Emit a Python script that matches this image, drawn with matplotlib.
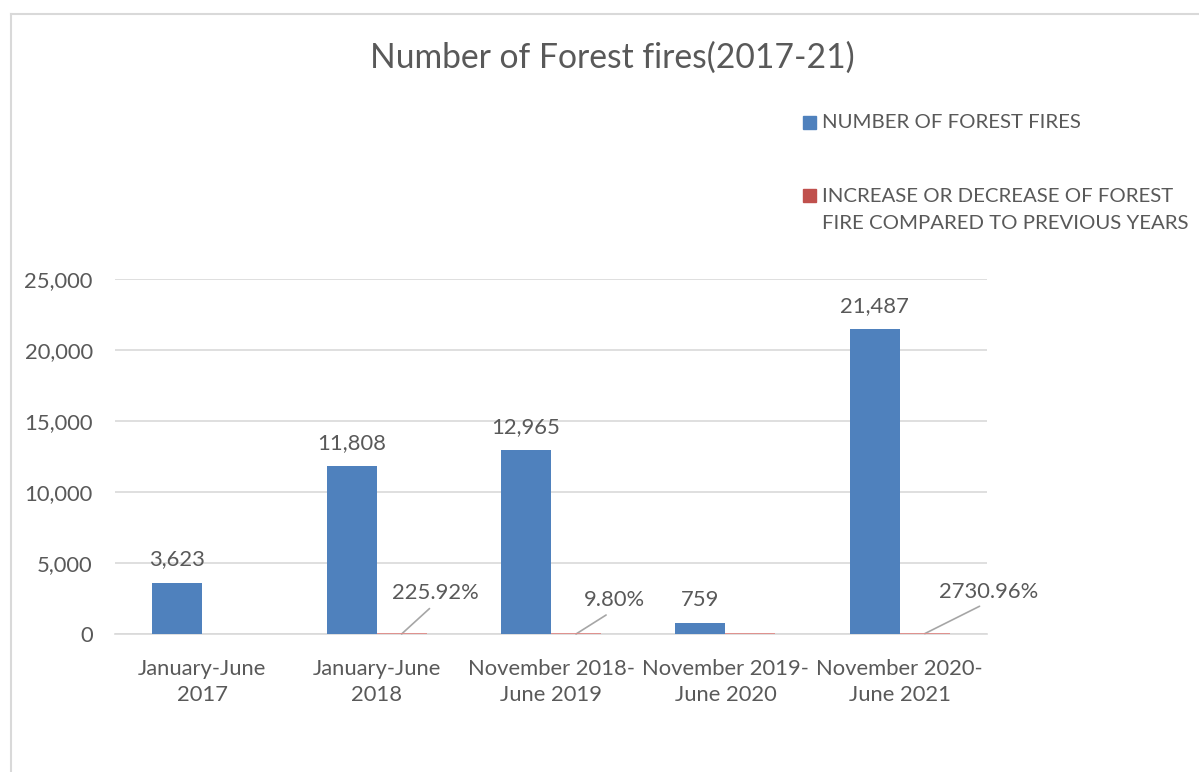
import matplotlib
matplotlib.use("Agg")
import matplotlib.pyplot as plt
from matplotlib.patches import Rectangle
from matplotlib.lines import Line2D
import numpy as np

plt.rcParams['font.family'] = ['Lato', 'DejaVu Sans']

categories = ["January-June\n2017", "January-June\n2018", "November 2018-\nJune 2019",
              "November 2019-\nJune 2020", "November 2020-\nJune 2021"]
fires = [3623, 11808, 12965, 759, 21487]
change = [np.nan, 2.2592, 0.098, -0.9415, 27.3096]
change_labels = [None, "225.92%", "9.80%", None, "2730.96%"]
yticks = [0, 5000, 10000, 15000, 20000, 25000]
series_names = ["NUMBER OF FOREST FIRES",
                "INCREASE OR DECREASE OF FOREST\nFIRE COMPARED TO PREVIOUS YEARS"]

BLUE = "#4F81BD"
RED = "#C0504D"
TXT = "#595959"
GRID = "#D9D9D9"
FS = 15.8

W, H = 1199, 772
fig = plt.figure(figsize=(W / 100, H / 100), dpi=100)
ax = fig.add_axes([115 / W, 1 - 634 / H, (987 - 115) / W, (634 - 279) / H])

x = np.arange(len(categories))
bw = 0.287
ax.bar(x, fires, width=-bw, align='edge', color=BLUE, zorder=3)
valid = [i for i, v in enumerate(change) if not np.isnan(v)]
ax.bar(x[valid], [change[i] for i in valid], width=bw, align='edge', color=RED,
       edgecolor="#E08B88", linewidth=1.3, zorder=4)

ax.set_xlim(-0.5, len(categories) - 0.5)
ax.set_ylim(0, 25000)
ax.set_yticks(yticks)
ax.set_yticklabels([f"{v:,}" for v in yticks])
ax.set_xticks(x)
ax.set_xticklabels(categories, linespacing=1.38)
ax.tick_params(axis='both', length=0, labelsize=FS, colors=TXT)
ax.tick_params(axis='y', pad=16)
ax.tick_params(axis='x', pad=18)
ax.grid(axis='y', color=GRID, linewidth=1.2, zorder=0)
for s in ['top', 'right', 'left']:
    ax.spines[s].set_visible(False)
ax.spines['bottom'].set_color(GRID)
ax.spines['bottom'].set_linewidth(1.2)
ax.spines['bottom'].set_zorder(2)

# blue value labels
for xi, v in zip(x, fires):
    ax.annotate(f"{v:,}", xy=(xi - bw / 2, v), xytext=(0, 13), textcoords='offset pixels',
                ha='center', va='bottom', fontsize=FS, color=TXT)

# red value labels with leader lines
label_offsets = [None, (34, 41), (38, 34), None, (64, 42)]
for xi, v, lab, off in zip(x, change, change_labels, label_offsets):
    if lab is None:
        continue
    ax.annotate(lab, xy=(xi + bw / 2, v), xytext=off, textcoords='offset pixels',
                ha='center', va='center', fontsize=FS, color=TXT,
                arrowprops=dict(arrowstyle='-', color='#A6A6A6', lw=1.2,
                                shrinkA=3, shrinkB=0, relpos=(0.5, 0)))

# title
fig.text(612 / W, 1 - 58 / H, "Number of Forest fires(2017-21)", ha='center', va='center',
         fontsize=24.2, color=TXT)

# legend (manual)
fig.patches.append(Rectangle((803 / W, 1 - 129 / H), 13 / W, 13 / H,
                             transform=fig.transFigure, color=BLUE))
fig.text(822 / W, 1 - 122 / H, series_names[0], ha='left', va='center', fontsize=14.7, color=TXT)
fig.patches.append(Rectangle((803 / W, 1 - 202 / H), 13 / W, 13 / H,
                             transform=fig.transFigure, color=RED))
fig.text(822 / W, 1 - 210 / H, series_names[1], ha='left', va='center', fontsize=14.7,
         color=TXT, linespacing=1.75)

# outer frame
fig.add_artist(Line2D([11 / W, 1], [1 - 14 / H, 1 - 14 / H], transform=fig.transFigure,
                      color=GRID, lw=1.5))
fig.add_artist(Line2D([11 / W, 11 / W], [0, 1 - 14 / H], transform=fig.transFigure,
                      color=GRID, lw=1.5))

fig.savefig("out.png", dpi=100, facecolor='white')
